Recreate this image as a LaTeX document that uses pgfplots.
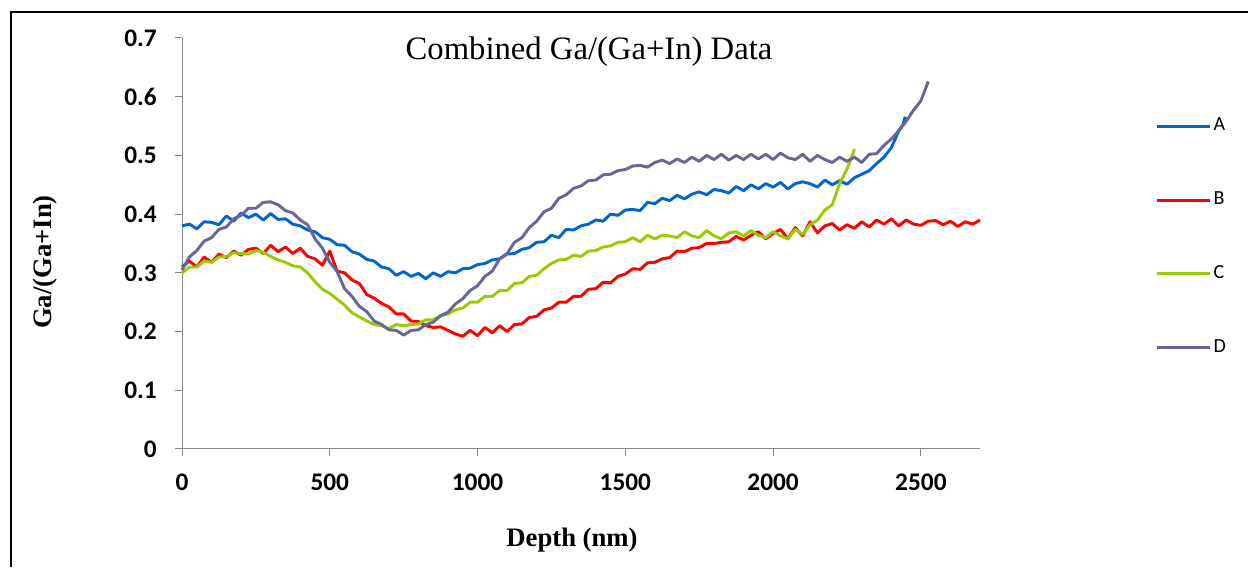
\documentclass[border=0pt]{standalone}
\usepackage{pgfplots}
\pgfplotsset{compat=1.18}
\usepackage{fontspec}
\setmainfont{Liberation Serif}
\newfontfamily\calibri{Carlito}
\definecolor{cA}{HTML}{0066CC}
\definecolor{cB}{HTML}{FF0000}
\definecolor{cC}{HTML}{99CC00}
\definecolor{cD}{HTML}{666699}
\definecolor{axgray}{HTML}{868686}
\begin{document}
\begin{tikzpicture}
\useasboundingbox (0,0) rectangle (936pt,425.25pt);
\draw[line width=1.5pt] (8.25pt,0) -- (8.25pt,416.25pt) -- (936pt,416.25pt);
\begin{axis}[
  at={(136.5pt,88.5pt)}, anchor=south west,
  scale only axis, width=598.5pt, height=308.25pt,
  xmin=0, xmax=2700, ymin=0, ymax=0.7,
  axis x line*=bottom, axis y line*=left,
  axis line style={axgray, line width=0.75pt},
  every tick/.style={axgray, line width=0.75pt},
  tick align=outside, major tick length=5.25pt,
  xtick={0,500,1000,1500,2000,2500},
  xticklabels={0,500,1000,1500,2000,2500},
  ytick={0,0.1,0.2,0.3,0.4,0.5,0.6,0.7},
  yticklabels={0,0.1,0.2,0.3,0.4,0.5,0.6,0.7},
  ticklabel style={font=\calibri\bfseries\fontsize{19}{19}\selectfont},
  yticklabel style={inner sep=0pt, xshift=-13.5pt},
  xticklabel style={inner sep=0pt, yshift=-13pt},
  clip=false,
  legend style={draw=none, fill=none, at={(1.219,0.516)}, anchor=west, inner sep=0pt,
    font=\calibri\fontsize{15}{15}\selectfont, row sep=36.3pt,
    nodes={inner sep=2pt, text height=11pt, text depth=4pt}},
  legend cell align=left,
  legend image code/.code={\draw[#1] (0pt,0pt) -- (39.75pt,0pt);},
  every axis plot/.append style={line width=2.2pt, line join=round},
]
\addplot[cA] coordinates {
(0,.380)(25,.383)(50,.375)(75,.387)(100,.386)(125,.382)(150,.397)(175,.388)(200,.402)(225,.394)(250,.400)(275,.390)(300,.401)(325,.391)(350,.392)(375,.383)(400,.380)(425,.373)(450,.370)(475,.360)(500,.357)(525,.348)(550,.347)(575,.336)(600,.332)(625,.323)(650,.320)(675,.310)(700,.307)(725,.296)(750,.302)(775,.294)(800,.299)(825,.290)(850,.300)(875,.294)(900,.302)(925,.300)(950,.307)(975,.308)(1000,.314)(1025,.316)(1050,.322)(1075,.324)(1100,.332)(1125,.333)(1150,.340)(1175,.343)(1200,.352)(1225,.353)(1250,.364)(1275,.360)(1300,.374)(1325,.373)(1350,.380)(1375,.383)(1400,.390)(1425,.388)(1450,.400)(1475,.398)(1500,.407)(1525,.408)(1550,.406)(1575,.420)(1600,.418)(1625,.427)(1650,.423)(1675,.432)(1700,.426)(1725,.434)(1750,.438)(1775,.433)(1800,.442)(1825,.440)(1850,.436)(1875,.447)(1900,.440)(1925,.450)(1950,.443)(1975,.452)(2000,.446)(2025,.454)(2050,.443)(2075,.452)(2100,.455)(2125,.452)(2150,.446)(2175,.458)(2200,.450)(2225,.457)(2250,.451)(2275,.462)(2300,.468)(2325,.474)(2350,.486)(2375,.497)(2400,.513)(2425,.542)(2440,.553)(2447,.566)};
\addlegendentry{A}
\addplot[cB] coordinates {
(0,.310)(25,.320)(50,.310)(75,.327)(100,.318)(125,.332)(150,.326)(175,.337)(200,.330)(225,.340)(250,.342)(275,.333)(300,.347)(325,.336)(350,.344)(375,.333)(400,.342)(425,.328)(450,.324)(475,.313)(500,.337)(525,.303)(550,.300)(575,.288)(600,.282)(625,.263)(650,.257)(675,.248)(700,.242)(725,.230)(750,.230)(775,.218)(800,.217)(825,.210)(850,.207)(875,.208)(900,.202)(925,.196)(950,.192)(975,.202)(1000,.193)(1025,.207)(1050,.198)(1075,.210)(1100,.200)(1125,.212)(1150,.213)(1175,.224)(1200,.226)(1225,.237)(1250,.240)(1275,.250)(1300,.250)(1325,.260)(1350,.260)(1375,.272)(1400,.273)(1425,.284)(1450,.283)(1475,.294)(1500,.298)(1525,.307)(1550,.306)(1575,.317)(1600,.318)(1625,.324)(1650,.326)(1675,.337)(1700,.336)(1725,.342)(1750,.343)(1775,.350)(1800,.350)(1825,.352)(1850,.353)(1875,.362)(1900,.356)(1925,.364)(1950,.370)(1975,.358)(2000,.367)(2025,.374)(2050,.358)(2075,.377)(2100,.363)(2125,.387)(2150,.368)(2175,.380)(2200,.384)(2225,.373)(2250,.382)(2275,.376)(2300,.387)(2325,.378)(2350,.390)(2375,.383)(2400,.392)(2425,.380)(2450,.390)(2475,.383)(2500,.381)(2525,.388)(2550,.389)(2575,.382)(2600,.388)(2625,.379)(2650,.387)(2675,.383)(2700,.390)};
\addlegendentry{B}
\addplot[cC] coordinates {
(0,.300)(25,.310)(50,.310)(75,.320)(100,.318)(125,.327)(150,.328)(175,.334)(200,.333)(225,.332)(250,.338)(275,.335)(300,.328)(325,.322)(350,.318)(375,.312)(400,.310)(425,.300)(450,.285)(475,.272)(500,.265)(525,.255)(550,.245)(575,.232)(600,.225)(625,.218)(650,.212)(675,.210)(700,.205)(725,.212)(750,.210)(775,.212)(800,.213)(825,.220)(850,.220)(875,.227)(900,.230)(925,.237)(950,.240)(975,.250)(1000,.250)(1025,.260)(1050,.260)(1075,.270)(1100,.270)(1125,.282)(1150,.283)(1175,.294)(1200,.296)(1225,.307)(1250,.316)(1275,.322)(1300,.323)(1325,.330)(1350,.328)(1375,.337)(1400,.338)(1425,.344)(1450,.346)(1475,.352)(1500,.353)(1525,.360)(1550,.353)(1575,.364)(1600,.358)(1625,.364)(1650,.363)(1675,.360)(1700,.370)(1725,.363)(1750,.360)(1775,.372)(1800,.363)(1825,.358)(1850,.368)(1875,.370)(1900,.363)(1925,.372)(1950,.364)(1975,.360)(2000,.370)(2025,.363)(2050,.358)(2075,.374)(2100,.366)(2125,.382)(2150,.390)(2175,.407)(2200,.416)(2225,.452)(2250,.477)(2265,.496)(2275,.511)};
\addlegendentry{C}
\addplot[cD] coordinates {
(0,.305)(25,.327)(50,.338)(75,.354)(100,.360)(125,.374)(150,.378)(175,.392)(200,.398)(225,.410)(250,.410)(275,.420)(300,.421)(325,.416)(350,.406)(375,.402)(400,.390)(425,.382)(450,.358)(475,.342)(500,.318)(525,.302)(550,.273)(575,.260)(600,.243)(625,.234)(650,.218)(675,.212)(700,.203)(725,.202)(750,.194)(775,.202)(800,.203)(825,.212)(850,.216)(875,.227)(900,.233)(925,.247)(950,.256)(975,.270)(1000,.278)(1025,.294)(1050,.303)(1075,.324)(1100,.333)(1125,.352)(1150,.360)(1175,.377)(1200,.388)(1225,.404)(1250,.410)(1275,.427)(1300,.433)(1325,.444)(1350,.448)(1375,.457)(1400,.458)(1425,.467)(1450,.468)(1475,.474)(1500,.476)(1525,.482)(1550,.483)(1575,.480)(1600,.488)(1625,.492)(1650,.486)(1675,.494)(1700,.488)(1725,.497)(1750,.490)(1775,.500)(1800,.493)(1825,.502)(1850,.492)(1875,.500)(1900,.493)(1925,.502)(1950,.494)(1975,.502)(2000,.493)(2025,.504)(2050,.496)(2075,.493)(2100,.502)(2125,.490)(2150,.500)(2175,.493)(2200,.488)(2225,.497)(2250,.490)(2275,.497)(2300,.488)(2325,.502)(2350,.503)(2375,.517)(2400,.528)(2425,.542)(2450,.558)(2475,.577)(2500,.593)(2525,.626)};
\addlegendentry{D}
\end{axis}
\node[font=\fontsize{24.5}{24.5}\selectfont] at (441.75pt,386.25pt) {Combined Ga/(Ga+In) Data};
\node[font=\bfseries\fontsize{20}{20}\selectfont] at (429pt,20.25pt) {Depth (nm)};
\node[font=\bfseries\fontsize{20}{20}\selectfont, rotate=90] at (33.75pt,228.75pt) {Ga/(Ga+In)};
\end{tikzpicture}
\end{document}
